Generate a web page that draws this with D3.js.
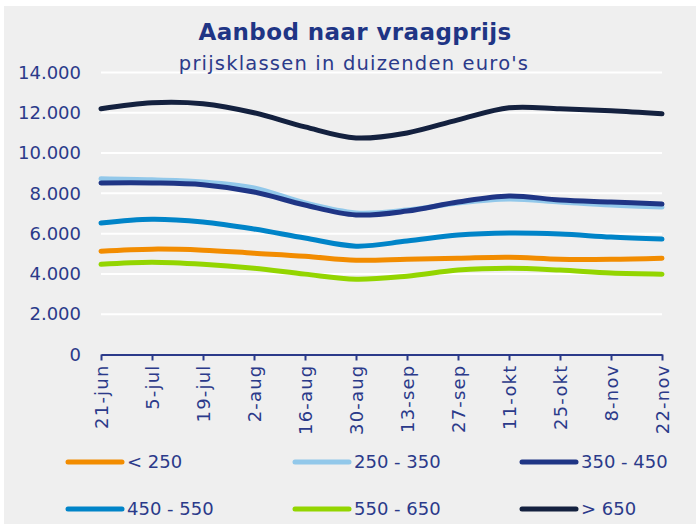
<!DOCTYPE html>
<html lang="nl">
<head>
    <meta charset="UTF-8">
    <title>Aanbod naar vraagprijs</title>
    <style>
        body { margin: 0; background: #fff; overflow: hidden; }
        text { font-family: "DejaVu Sans", Lato, sans-serif; }
    </style>
</head>
<body>
    <script src="https://d3js.org/d3.v7.min.js"></script>
    <script>
        // data (aantal woningen te koop)
        const dates = ['21-jun', '5-jul', '19-jul', '2-aug', '16-aug', '30-aug', '13-sep', '27-sep', '11-okt', '25-okt', '8-nov', '22-nov'];
        const seriesNames = ['< 250', '250 - 350', '350 - 450', '450 - 550', '550 - 650', '> 650'];
        const colors = ['#f28c00', '#92c8ea', '#1f3585', '#0084c8', '#93d500', '#14213f'];
        const under250 = [5130, 5230, 5180, 5030, 4880, 4680, 4730, 4780, 4830, 4730, 4730, 4780];
        const from250 = [8720, 8670, 8570, 8270, 7520, 7030, 7170, 7520, 7720, 7570, 7420, 7320];
        const from350 = [8520, 8520, 8430, 8070, 7420, 6930, 7120, 7570, 7870, 7670, 7570, 7470];
        const from450 = [6530, 6720, 6580, 6230, 5780, 5380, 5630, 5930, 6030, 5980, 5830, 5730];
        const from550 = [4480, 4580, 4480, 4280, 3990, 3740, 3890, 4190, 4280, 4190, 4040, 3990];
        const over650 = [12200, 12500, 12450, 12000, 11300, 10750, 11000, 11650, 12250, 12200, 12100, 11950];
        const yTicks = [0, 2000, 4000, 6000, 8000, 10000, 12000, 14000];

        const values = [under250, from250, from350, from450, from550, over650];

        const width = 699, height = 525;
        const textColor = '#2b3a8a';

        const svg = d3.select('body').append('svg')
            .attr('width', width)
            .attr('height', height);

        // grey panel
        svg.append('rect')
            .attr('x', 4).attr('y', 6)
            .attr('width', 692).attr('height', 518)
            .attr('fill', '#efefef');

        const x = d3.scalePoint().domain(dates).range([101, 662]);
        const y = d3.scaleLinear().domain([0, 14000]).range([354.5, 72.5]);

        // gridlines
        svg.append('g').selectAll('line')
            .data(yTicks.filter(d => d > 0))
            .enter().append('line')
            .attr('x1', 101).attr('x2', 662)
            .attr('y1', d => y(d)).attr('y2', d => y(d))
            .attr('stroke', '#fff')
            .attr('stroke-width', 2);

        // y axis labels
        const fmt = d => d === 0 ? '0' : d3.format(',')(d).replace(',', '.');
        const yAxis = svg.append('g')
            .attr('transform', 'translate(81,0)')
            .call(d3.axisLeft(y).tickValues(yTicks).tickFormat(fmt).tickSize(0).tickPadding(0));
        yAxis.select('.domain').remove();
        yAxis.selectAll('text')
            .attr('fill', textColor)
            .style('font-size', '18px');

        // x axis
        const xAxis = svg.append('g')
            .attr('transform', `translate(0,${y(0)})`)
            .call(d3.axisBottom(x).tickSize(6).tickSizeOuter(0));
        xAxis.select('.domain').attr('stroke', textColor).attr('stroke-width', 2);
        xAxis.selectAll('.tick line').attr('stroke', textColor).attr('stroke-width', 2);
        xAxis.selectAll('text')
            .attr('fill', textColor)
            .style('font-size', '18px')
            .style('letter-spacing', '1.2px')
            .attr('transform', 'rotate(-90)')
            .attr('text-anchor', 'end')
            .attr('x', -10)
            .attr('y', 0)
            .attr('dy', '0.35em');

        // lines
        const line = d3.line()
            .x((d, i) => x(dates[i]))
            .y(d => y(d))
            .curve(d3.curveCatmullRom.alpha(0));

        svg.append('g').selectAll('path')
            .data(values)
            .enter().append('path')
            .attr('d', line)
            .attr('fill', 'none')
            .attr('stroke', (d, i) => colors[i])
            .attr('stroke-width', 5)
            .attr('stroke-linecap', 'round');

        // title
        svg.append('text')
            .attr('x', 355).attr('y', 40)
            .attr('text-anchor', 'middle')
            .attr('fill', '#1f3585')
            .style('font-size', '23px')
            .style('font-weight', 'bold')
            .style('letter-spacing', '0.4px')
            .text('Aanbod naar vraagprijs');

        svg.append('text')
            .attr('x', 354).attr('y', 70)
            .attr('text-anchor', 'middle')
            .attr('fill', textColor)
            .style('font-size', '19.5px')
            .style('letter-spacing', '1.2px')
            .text("prijsklassen in duizenden euro's");

        // legend
        const legend = svg.append('g').selectAll('g')
            .data(seriesNames)
            .enter().append('g')
            .attr('transform', (d, i) => `translate(${68 + (i % 3) * 227},${i < 3 ? 462 : 509})`);

        legend.append('line')
            .attr('x1', 0).attr('x2', 54)
            .attr('stroke', (d, i) => colors[i])
            .attr('stroke-width', 5)
            .attr('stroke-linecap', 'round');

        legend.append('text')
            .attr('x', 59)
            .attr('dy', '0.35em')
            .attr('fill', textColor)
            .style('font-size', '18px')
            .text(d => d);
    </script>
</body>
</html>
